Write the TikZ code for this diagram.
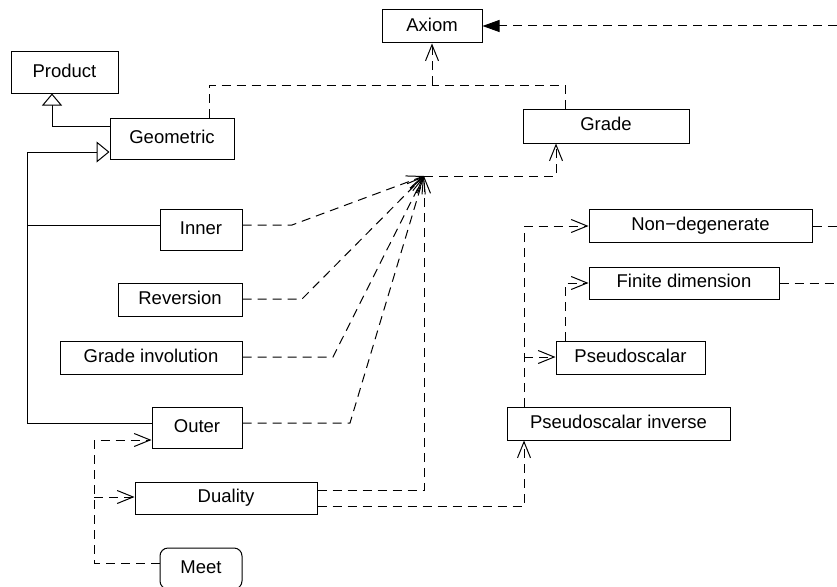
\documentclass[tikz,border=0pt]{standalone}
\usepackage{fontspec}
\setmainfont{Liberation Sans}
\usetikzlibrary{arrows.meta}
\begin{document}
\begin{tikzpicture}[x=1pt,y=-1pt,
  box/.style={draw=black,line width=1pt,inner sep=0pt,minimum height=33pt,
    text height=13.5pt,text depth=4pt,font=\fontsize{18.5}{22}\selectfont},
  dep/.style={draw=black,line width=1pt,dash pattern=on 9pt off 6pt},
  barb/.style={-{Straight Barb[length=16pt,width=13pt]}},
  inh/.style={-{Triangle[open,fill=white,length=13pt,width=21pt]}},
  solidline/.style={draw=black,line width=1pt}]
\useasboundingbox (0,0) rectangle (837,586);
\clip (0,0) rectangle (837,586);

% boxes
\node[box,minimum width=100pt] (Axiom) at (432,26.5) {Axiom};
\node[box,minimum width=107pt,minimum height=41pt] (Product) at (64.5,72.5) {Product};
\node[box,minimum width=124pt,minimum height=41pt] (Geometric) at (172,138.5) {Geometric};
\node[box,minimum width=166pt,minimum height=34pt] (Grade) at (606,126) {Grade};
\node[box,minimum width=82pt,minimum height=41pt] (Inner) at (201,229.5) {Inner};
\node[box,minimum width=124pt] (Reversion) at (180,299.5) {Reversion};
\node[box,minimum width=182pt] (GI) at (151,357.5) {Grade involution};
\node[box,minimum width=90pt,minimum height=41pt] (Outer) at (197,427.5) {Outer};
\node[box,minimum width=182pt,minimum height=32pt] (Duality) at (226,498) {Duality};
\node[box,minimum width=82pt,minimum height=41pt,rounded corners=8pt] (Meet) at (201,568.5) {Meet};
\node[box,minimum width=223pt] (NonDeg) at (700.5,225.5) {Non−degenerate};
\node[box,minimum width=190pt,minimum height=32pt] (Finite) at (684,283) {Finite dimension};
\node[box,minimum width=149pt] (PsScal) at (630.5,357.5) {Pseudoscalar};
\node[box,minimum width=223pt] (PsInv) at (618.5,423.5) {Pseudoscalar inverse};

% junction points
\coordinate (A) at (432,85);
\coordinate (J) at (424,176);
\coordinate (T) at (27,152);
\coordinate (R1) at (837,26);
\coordinate (M1) at (94,497);
\coordinate (P1) at (524,357);

% inheritance (solid)
\draw[solidline,-{Triangle[open,fill=white,length=12pt,width=20pt]}] (Geometric.west |- 0,126) -| (Product.south -| 52,0);
\draw[solidline,inh] (Inner.west |- 0,225) -| (T) -- (Geometric.west |- T);
\draw[solidline] (Outer.west |- 0,423) -| (T);

% dependencies to Axiom
\draw[dep] (Geometric.north -| 209,0) |- (A);
\draw[dep] (Grade.north -| 565,0) |- (A);
\draw[dep,barb] (A) -- (Axiom.south);
\draw[dep,-{Triangle[length=17pt,width=12pt]}] (R1) -- (Axiom.east |- R1);

% dependencies to Grade via junction
\draw[dep,barb] (Inner.east |- 0,225) -- (292,225) -- (J);
\draw[dep,barb] (Reversion.east |- 0,299) -- (302,299) -- (J);
\draw[dep,barb] (GI.east |- 0,357) -- (333,357) -- (J);
\draw[dep,barb] (Outer.east |- 0,423) -- (350,423) -- (J);
\draw[dep,barb] (Duality.east |- 0,490) -| (J);
\draw[dep,barb] (J) -| (Grade.south -| 556,0);

% Meet
\draw[dep,barb] (Meet.west |- 0,563) -| (94,440) -- (Outer.west |- 0,440);
\draw[dep,barb] (M1) -- (Duality.west |- M1);

% Duality -> Pseudoscalar inverse
\draw[dep,barb] (Duality.east |- 0,506) -| (PsInv.south -| 524,0);

% Pseudoscalar inverse -> Non-degenerate, Pseudoscalar
\draw[dep,barb] (PsInv.north -| 524,0) |- (NonDeg.west |- 0,226);
\draw[dep,barb] (P1) -- (PsScal.west |- P1);
\draw[dep,barb] (PsScal.north -| 565,0) |- (Finite.west |- 0,283);

% outgoing to the right edge
\draw[dep] (NonDeg.east |- 0,226) -- (840,226);
\draw[dep] (Finite.east |- 0,283) -- (840,283);
\end{tikzpicture}
\end{document}
